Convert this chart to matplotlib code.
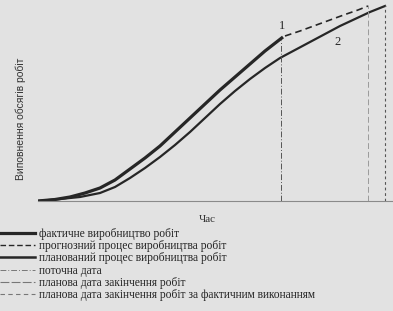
import matplotlib
matplotlib.use("Agg")
import matplotlib.pyplot as plt
from matplotlib.lines import Line2D

# ---- data (time in days from start, work volume in arbitrary units) ----
actual_t = [0, 17, 32, 47, 62, 77, 92, 107, 122, 137, 152, 167, 182, 197, 212, 227, 245]
actual_w = [0, 1.5, 4, 8, 13, 21, 32, 43, 55, 69, 83, 97, 111, 124, 137, 150, 164]

planned_t = [0, 22, 42, 62, 77, 92, 107, 122, 137, 152, 167, 182, 197, 212, 227, 242,
             257, 272, 287, 302, 317, 332, 347]
planned_w = [0, 2, 4, 8, 14, 23, 33, 44, 56, 69, 83, 97, 110, 122, 133, 143,
             151, 159, 167, 175, 182, 189, 195]

forecast_t = [247, 262, 277, 292, 307, 320, 330]
forecast_w = [165, 170, 175.5, 181, 186.5, 191, 195]

current_date = 243
planned_end = 347
forecast_end = 330

labels = [
    "фактичне виробництво робіт",
    "прогнозний процес виробництва робіт",
    "планований процес виробництва робіт",
    "поточна дата",
    "планова дата закінчення робіт",
    "планова дата закінчення робіт за фактичним виконанням",
]
ylabel = "Виповнення обсягів робіт"
xlabel = "Час"

W, H = 393, 311
bg = "#e2e2e2"
ink = "#262626"

fig = plt.figure(figsize=(W / 100, H / 100), dpi=100, facecolor=bg)
ax = fig.add_axes([38 / W, 1 - 201 / H, (392 - 38) / W, 201 / H])
ax.set_facecolor(bg)
ax.set_xlim(0, 354)
ax.set_ylim(0, 201)

l_act, = ax.plot(actual_t, actual_w, color=ink, lw=2.3, solid_capstyle="butt",
                 solid_joinstyle="round")
l_fc, = ax.plot(forecast_t, forecast_w, color=ink, lw=1.2, ls=(0, (4, 2.5)))
l_pl, = ax.plot(planned_t, planned_w, color=ink, lw=1.6, solid_joinstyle="round")

ax.axvline(current_date, ymin=0, ymax=0.80, color="#555555", lw=0.7, ls=(0, (6, 2, 1, 2)))
ax.axvline(planned_end, ymin=0, ymax=0.975, color="#555555", lw=0.8, ls=(0, (2.5, 2.5)))
ax.axvline(forecast_end, ymin=0, ymax=0.975, color="#9a9a9a", lw=0.7, ls=(0, (6, 3)))

ax.text(244, 175, "1", fontsize=9, family="Liberation Serif", color=ink, ha="center", va="center")
ax.text(300, 159, "2", fontsize=9, family="Liberation Serif", color=ink, ha="center", va="center")

for s in ["top", "right", "left"]:
    ax.spines[s].set_visible(False)
ax.spines["bottom"].set_color("#8a8a8a")
ax.spines["bottom"].set_linewidth(0.8)
ax.set_xticks([])
ax.set_yticks([])

ax.set_ylabel(ylabel, fontsize=7.5, family="Liberation Sans", color="#333333")
ax.yaxis.set_label_coords(-0.034, 0.41)
ax.set_xlabel(xlabel, fontsize=8, family="Liberation Serif", color="#333333")
ax.xaxis.set_label_coords(0.477, -0.07)

handles = [
    Line2D([], [], color=ink, lw=2.3),
    Line2D([], [], color=ink, lw=1.0, ls=(0, (4, 2))),
    Line2D([], [], color=ink, lw=1.8),
    Line2D([], [], color="#777777", lw=0.7, ls=(0, (6, 2, 1, 2))),
    Line2D([], [], color="#777777", lw=0.8, ls=(0, (8, 2))),
    Line2D([], [], color="#777777", lw=0.8, ls=(0, (4, 3))),
]
leg = fig.legend(handles, labels, loc="upper left", bbox_to_anchor=(0.0, 1 - 228 / H),
                 frameon=False, prop={"family": "Liberation Serif", "size": 8.3},
                 handlelength=3.0, handletextpad=0.4, labelspacing=0.02,
                 borderpad=0, borderaxespad=0)
for t in leg.get_texts():
    t.set_color("#222222")

fig.savefig("out.png", dpi=100, facecolor=bg)
